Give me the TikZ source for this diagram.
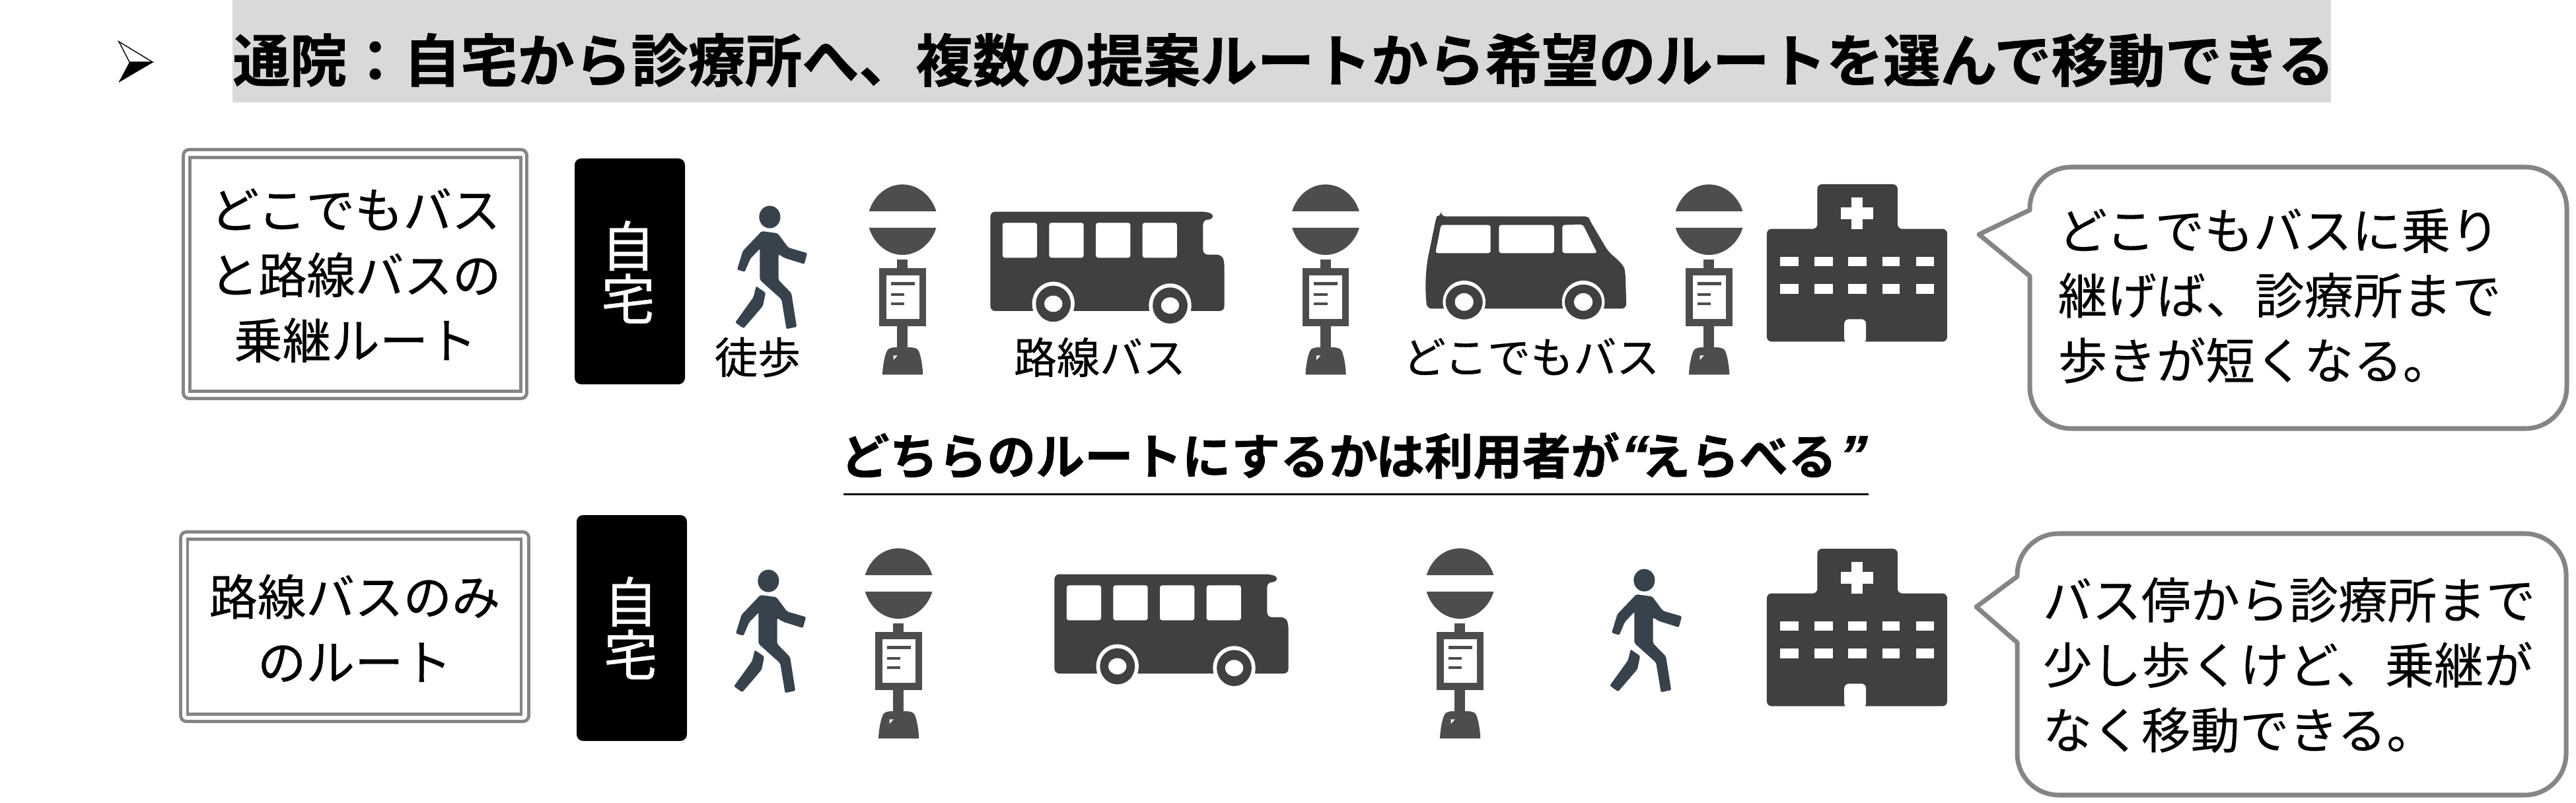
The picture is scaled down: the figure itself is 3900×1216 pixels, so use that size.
\documentclass[tikz,border=0pt]{standalone}
\usepackage{fontspec}
\setmainfont{Noto Sans CJK JP}[BoldFont={Noto Sans CJK JP Bold}]
\newfontfamily\medfont{Noto Sans CJK JP}[FakeBold=0.5]
\newfontfamily\notefont{Noto Sans CJK JP}[FakeBold=0.2]
\newfontfamily\heavyfont{Noto Sans CJK JP Bold}[FakeBold=1]
\newfontfamily\quotefont{Liberation Sans Bold}[FakeBold=0.7,FakeSlant=0.25]
\definecolor{icongrey}{HTML}{404040}
\definecolor{stopgrey}{HTML}{4D4D4D}
\definecolor{walkgrey}{HTML}{37424D}
\definecolor{framegrey}{HTML}{858585}
\definecolor{titlegrey}{HTML}{D9D9D9}
\tikzset{
  x=0.01cm,y=-0.01cm,
  titletext/.style={anchor=west,inner sep=0pt,font=\fontsize{24.5}{30}\heavyfont},
  routetext/.style={inner sep=0pt,align=center,font=\fontsize{20.9}{28.1}\medfont},
  hometext/.style={inner sep=0pt,align=center,text=white,font=\fontsize{23.3}{22.8}\medfont},
  smalltext/.style={inner sep=0pt,font=\fontsize{18.5}{22}\medfont},
  choicetext/.style={anchor=west,inner sep=0pt,font=\fontsize{21}{26}\heavyfont},
  notetext/.style={anchor=west,inner sep=0pt,align=left,font=\fontsize{21.2}{28}\notefont},
  frameouter/.style={draw=framegrey,line width=1.4pt,rounded corners=2.5pt},
  frameinner/.style={draw=framegrey,line width=1.2pt},
  homebox/.style={fill=black,rounded corners=2.8pt},
  callout/.style={draw=framegrey,line width=2pt,fill=white,line join=round},
  pics/walker/.style={code={
    \begin{scope}[xscale=0.574,yscale=0.3333]
      \fill[walkgrey] (201,326) ellipse [x radius=28,y radius=51];
      \fill[walkgrey,rounded corners=0.6pt] (180,390) -- (222,400) -- (250,465) -- (300,490) -- (292,540) -- (240,512) -- (224,495) -- (224,612) -- (258,672) -- (272,825) -- (245,835) -- (232,700) -- (175,612) -- (175,470) -- (150,515) -- (135,575) -- (115,565) -- (130,480) -- cycle;
      \fill[walkgrey,rounded corners=0.6pt] (165,640) -- (190,670) -- (183,730) -- (132,832) -- (110,805) -- (158,690) -- cycle;
    \end{scope}}},
  pics/busstop/.style={code={
    \begin{scope}[xscale=0.574,yscale=0.3333]
      \fill[stopgrey] (463,300) .. controls (475,230) and (510,178) .. (551,178) .. controls (592,178) and (628,230) .. (640,300) -- cycle;
      \fill[stopgrey] (463,375) .. controls (475,445) and (510,498) .. (551,498) .. controls (592,498) and (628,445) .. (640,375) -- cycle;
      \fill[stopgrey] (537,518) rectangle (565,560);
      \fill[stopgrey] (490,558) rectangle (613,822);
      \fill[white] (508,592) rectangle (595,790);
      \fill[stopgrey] (520,622) rectangle (583,635);
      \fill[stopgrey] (520,672) rectangle (556,685);
      \fill[stopgrey] (520,713) rectangle (556,727);
      \fill[stopgrey] (537,822) rectangle (565,925);
      \fill[stopgrey] (498,1042) .. controls (500,990) and (505,950) .. (511,932) .. controls (515,920) and (525,918) .. (537,918) -- (565,918) .. controls (580,918) and (590,920) .. (594,935) .. controls (600,960) and (604,1000) .. (605,1042) -- cycle;
      \fill[white] (527,955) -- (538,955) -- (527,976) -- cycle;
    \end{scope}}},
  pics/bigbus/.style={code={
    \begin{scope}[xscale=0.574,yscale=0.3333]
      \fill[icongrey,rounded corners=2pt] (783,302) -- (1355,302) .. controls (1365,310) and (1370,325) .. (1370,338) -- (1344,338) -- (1344,497) -- (1393,497) .. controls (1398,520) and (1400,540) .. (1400,570) -- (1400,753) -- (783,753) -- cycle;
      \foreach \wx in {815,938,1061,1184}
        \fill[white,rounded corners=1pt] (\wx,352) rectangle ++(91,159);
      \foreach \wx/\wy in {949/720,1257/728}{
        \fill[white] (\wx,\wy) ellipse [x radius=56,y radius=100];
        \fill[icongrey] (\wx,\wy) ellipse [x radius=46,y radius=82];
        \fill[white] (\wx,\wy) ellipse [x radius=24,y radius=37];
      }
    \end{scope}}},
  pics/van/.style={code={
    \begin{scope}[xscale=0.7018,yscale=0.3333]
      \fill[icongrey,rounded corners=2pt] (330,323) -- (630,323) .. controls (645,323) and (650,335) .. (652,345) -- (690,480) .. controls (705,510) and (725,540) .. (728,590) -- (730,742) -- (300,742) .. controls (295,650) and (297,560) .. (305,480) -- (318,345) .. controls (320,330) and (325,323) .. (330,323) -- cycle;
      \fill[white,rounded corners=1pt] (330,362) -- (437,362) -- (437,490) -- (318,490) -- cycle;
      \fill[white,rounded corners=1pt] (455,362) -- (574,362) -- (574,490) -- (455,490) -- cycle;
      \fill[white,rounded corners=1pt] (592,362) -- (636,360) -- (667,490) -- (592,490) -- cycle;
      \foreach \wx in {380,637}{
        \fill[white] (\wx,712) ellipse [x radius=46,y radius=97];
        \fill[icongrey] (\wx,712) ellipse [x radius=40,y radius=79];
        \fill[white] (\wx,712) ellipse [x radius=20,y radius=40];
      }
    \end{scope}}},
  pics/hospital/.style={code={
    \begin{scope}[xscale=0.7018,yscale=0.3333]
      \fill[icongrey,rounded corners=2pt] (1142,177) -- (1315,177) -- (1315,380) -- (1422,380) -- (1422,892) -- (1033,892) -- (1033,380) -- (1142,380) -- cycle;
      \fill[white] (1215,237) rectangle (1240,380);
      \fill[white] (1193,282) rectangle (1262,335);
      \fill[white,rounded corners=2pt] (1200,900) -- (1200,790) -- (1247,790) -- (1247,900) -- cycle;
      \foreach \wx/\ww in {1062/40,1135/40,1208/40,1282/38,1355/38}{
        \fill[white] (\wx,507) rectangle ++(\ww,43);
        \fill[white] (\wx,630) rectangle ++(\ww,45);
      }
    \end{scope}}}
}
\begin{document}
\begin{tikzpicture}
\useasboundingbox (0,0) rectangle (3900,1216);
\fill[white] (0,0) rectangle (3900,1216);
% title
\fill[titlegrey] (352,0) rectangle (3529,155);
\draw[line width=0.4pt,fill=white,line join=miter] (180,63) -- (231,94) -- (196,94) -- cycle;
\fill[black] (180,124) -- (231,94) -- (196,94) -- cycle;
\draw[line width=0.4pt] (180,124) -- (231,94);
\node[titletext] (title) at (352,91) {通院：自宅から診療所へ、複数の提案ルートから希望のルートを選んで移動できる};
% route 1
\draw[frameouter] (277.5,226.5) rectangle (797.5,603.5);
\draw[frameinner] (287.5,238.5) rectangle (788.5,592.5);
\node[routetext] (r1) at (538,417) {どこでもバス\\と路線バスの\\乗継ルート};
\fill[homebox] (870,240) rectangle (1037,582);
\node[hometext] (h1) at (951,412) {自\\宅};
\pic at (1050,220) {walker};
\pic at (1050,220) {busstop};
\pic at (1050,220) {bigbus};
\pic at (1690.5,220) {busstop};
\pic at (1950,220) {van};
\pic at (2271,220) {busstop};
\pic at (1950,220) {hospital};
\node[smalltext] (l1) at (1147,541) {徒歩};
\node[smalltext] (l2) at (1665,541) {路線バス};
\node[smalltext] (l3) at (2318,540) {どこでもバス};
\draw[callout] (3073,318) -- (2996,355) -- (3073,418) -- (3073,586) .. controls (3073,621) and (3101,649) .. (3136,649) -- (3823,649) .. controls (3858,649) and (3886,621) .. (3886,586) -- (3886,316) .. controls (3886,281) and (3858,253) .. (3823,253) -- (3136,253) .. controls (3101,253) and (3073,281) .. (3073,316) -- cycle;
\node[notetext] (n1) at (3115,448) {どこでもバスに乗り\\継げば、診療所まで\\歩きが短くなる。};
% middle
\node[choicetext] (mid) at (1272,690) {どちらのルートにするかは利用者が\hspace{-1.5pt}{\quotefont\fontsize{24}{26}\selectfont “}\hspace{-1pt}えらべる\hspace{-1pt}{\quotefont\fontsize{24}{26}\selectfont ”}};
\draw[line width=0.9pt] (1277,748.5) -- (2829,748.5);
% route 2
\draw[frameouter] (273.5,805.5) rectangle (800.5,1092.5);
\draw[frameinner] (284,816.5) rectangle (789,1081.5);
\node[routetext] (r2) at (537,951) {路線バスのみ\\のルート};
\fill[homebox] (873,780) rectangle (1040,1122);
\node[hometext] (h2) at (955,951) {自\\宅};
\pic at (1048,771) {walker};
\pic at (1044,771) {busstop};
\pic at (1147,769) {bigbus};
\pic at (1894,771) {busstop};
\pic at (2374,770) {walker};
\pic at (1950,772) {hospital};
\draw[callout] (3054,873) -- (2992,919) -- (3054,973) -- (3054,1141) .. controls (3054,1176) and (3082,1204) .. (3117,1204) -- (3822,1204) .. controls (3857,1204) and (3885,1176) .. (3885,1141) -- (3885,871) .. controls (3885,836) and (3857,808) .. (3822,808) -- (3117,808) .. controls (3082,808) and (3054,836) .. (3054,871) -- cycle;
\node[notetext] (n2) at (3092,1007) {バス停から診療所まで\\少し歩くけど、乗継が\\なく移動できる。};
\end{tikzpicture}
\end{document}
